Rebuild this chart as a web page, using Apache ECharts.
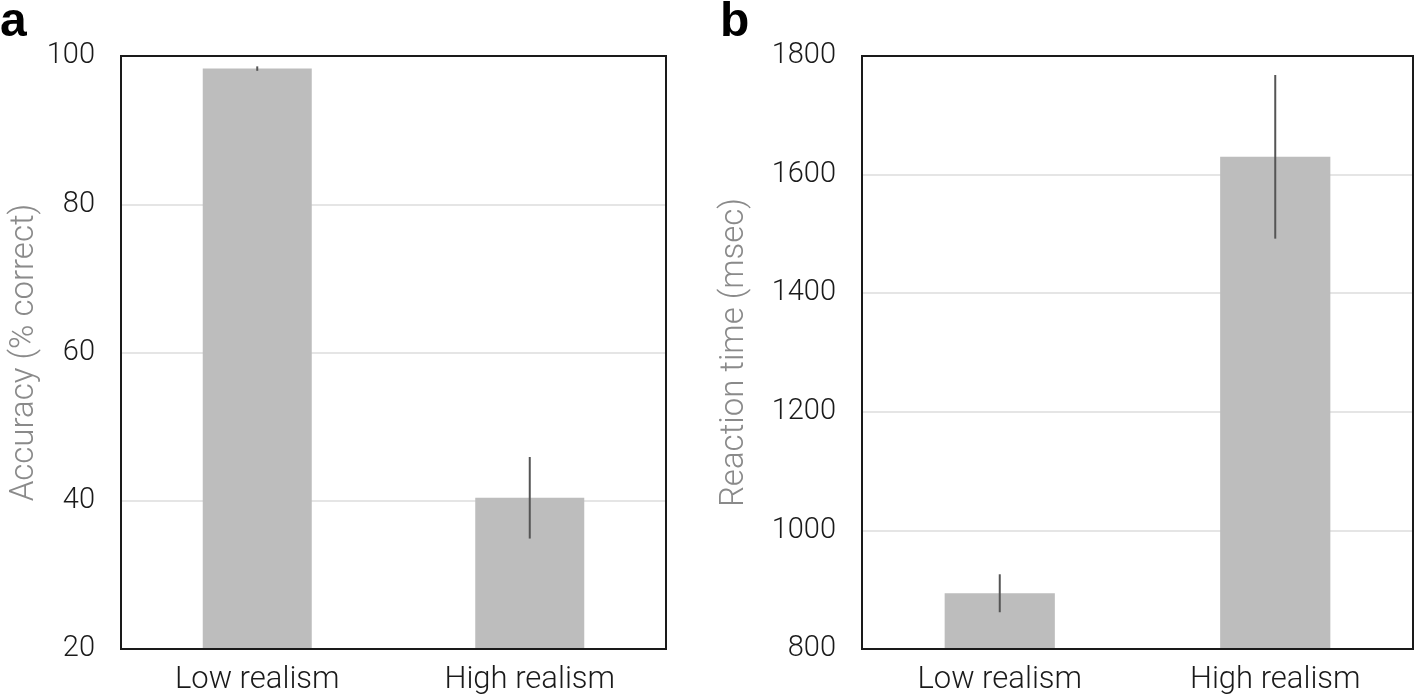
<!DOCTYPE html>
<html><head><meta charset="utf-8">
<script src="https://cdn.jsdelivr.net/npm/echarts@6/dist/echarts.min.js"></script>
<style>html,body{margin:0;padding:0;background:#fff}#c{width:1418px;height:700px}</style>
</head><body><div id="c"></div>
<script>
const categories = ['Low realism', 'High realism'];
const accuracyMean = [98.3, 40.4];
const accuracyErr = [0.3, 5.5];
const rtMean = [894, 1630];
const rtErr = [32, 138];
const accTicks = [20, 100, 20];   // min, max, interval
const rtTicks = [800, 1800, 200];

const FONT = 'Roboto';
const chart = echarts.init(document.getElementById('c'), null, {renderer: 'canvas'});

function errSeries(axisIdx, mean, err) {
  return {
    type: 'custom', xAxisIndex: axisIdx, yAxisIndex: axisIdx, z: 5,
    data: categories.map((c, i) => [i, mean[i] - err[i], mean[i] + err[i]]),
    renderItem: (params, api) => {
      const lo = api.coord([api.value(0), api.value(1)]);
      const hi = api.coord([api.value(0), api.value(2)]);
      return {type: 'line', shape: {x1: lo[0], y1: lo[1], x2: hi[0], y2: hi[1]},
              style: {stroke: '#555', lineWidth: 2}};
    }
  };
}

function yAxis(gi, t, name, gap) {
  return {
    type: 'value', gridIndex: gi, min: t[0], max: t[1], interval: t[2],
    name: name, nameLocation: 'middle', nameGap: gap,
    nameTextStyle: {color: '#8a8a8a', fontSize: 33, fontFamily: FONT, fontWeight: 300},
    axisLine: {show: false}, axisTick: {show: false},
    axisLabel: {color: '#1a1a1a', fontSize: 29, fontFamily: FONT, fontWeight: 300, margin: 26,
                formatter: v => String(v)},
    splitLine: {show: true, lineStyle: {color: '#dddddd', width: 1.5}}
  };
}
function xAxis(gi) {
  return {
    type: 'category', gridIndex: gi, data: categories,
    axisLine: {show: false}, axisTick: {show: false},
    axisLabel: {color: '#1a1a1a', fontSize: 31, fontFamily: FONT, fontWeight: 300, margin: 16}
  };
}

chart.setOption({
  animation: false,
  backgroundColor: '#fff',
  grid: [
    {left: 121, right: 752, top: 56, bottom: 51, show: true, borderColor: '#1a1a1a', borderWidth: 2, backgroundColor: 'transparent', z: 10},
    {left: 862, right: 5, top: 56, bottom: 51, show: true, borderColor: '#1a1a1a', borderWidth: 2, backgroundColor: 'transparent', z: 10}
  ],
  xAxis: [xAxis(0), xAxis(1)],
  yAxis: [yAxis(0, accTicks, 'Accuracy (% correct)', 80), yAxis(1, rtTicks, 'Reaction time (msec)', 111)],
  graphic: [
    {type: 'text', x: 0, y: 47, style: {text: 'a', font: 'bold 48px "Liberation Sans", Arial', fill: '#000', verticalAlign: 'bottom'}},
    {type: 'text', x: 720, y: 47, style: {text: 'b', font: 'bold 48px "Liberation Sans", Arial', fill: '#000', verticalAlign: 'bottom'}}
  ],
  series: [
    {type: 'bar', xAxisIndex: 0, yAxisIndex: 0, data: accuracyMean, barWidth: '40%', itemStyle: {color: '#bdbdbd'}, z: 2},
    {type: 'bar', xAxisIndex: 1, yAxisIndex: 1, data: rtMean, barWidth: '40%', itemStyle: {color: '#bdbdbd'}, z: 2},
    errSeries(0, accuracyMean, accuracyErr),
    errSeries(1, rtMean, rtErr)
  ]
});
</script></body></html>
